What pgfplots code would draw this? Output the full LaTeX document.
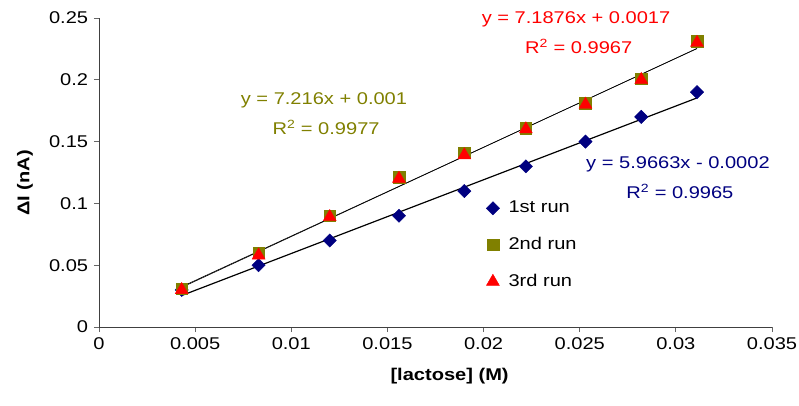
\documentclass[border=0pt]{standalone}
\usepackage{pgfplots}
\pgfplotsset{compat=1.18}
\usepackage{fontspec}
\setmainfont{Liberation Sans}[FakeStretch=1.18]
\definecolor{navyc}{RGB}{0,0,128}
\definecolor{olivec}{RGB}{128,128,0}
\definecolor{redc}{RGB}{255,0,0}
\newcommand{\fs}{\fontsize{17bp}{20bp}\selectfont}
\begin{document}
\fs
\begin{tikzpicture}
\begin{axis}[
  at={(99bp,79bp)}, anchor=south west,
  scale only axis, width=673bp, height=309bp,
  xmin=0, xmax=0.035, ymin=0, ymax=0.25,
  axis x line=bottom, axis y line=left,
  axis line style={-, line width=0.9pt, black!75},
  tick style={black!60, line width=0.9pt},
  tick align=outside, major tick length=5bp,
  xtick={0,0.005,0.01,0.015,0.02,0.025,0.03,0.035},
  ytick={0,0.05,0.1,0.15,0.2,0.25},
  xticklabels={0,0.005,0.01,0.015,0.02,0.025,0.03,0.035},
  yticklabels={0,0.05,0.1,0.15,0.2,0.25},
  scaled ticks=false,
  ticklabel style={font=\fs},
  xlabel={\textbf{[lactose] (M)}},
  ylabel={\textbf{ΔI (nA)}},
  label style={font=\fs},
  xlabel style={at={(axis description cs:0.521,-0.158)}, anchor=center},
  ylabel style={at={(axis description cs:-0.11,0.466)}, anchor=center},
  clip=false,
  legend image code/.code={\draw[#1] plot coordinates {(0cm,0cm)};},
  legend style={at={(axis cs:0.02013,0.1036)}, anchor=north west, draw=none, fill=none,
    font=\fs, row sep=18bp, inner sep=0pt, nodes={inner sep=2bp},
    /tikz/every odd column/.append style={column sep=7bp}},
  legend cell align=left,
]
\addplot[only marks, mark=square*, mark options={rotate=45}, mark size=4.7bp, color=navyc] coordinates {
(0.0043,0.03) (0.0083,0.05) (0.012,0.07) (0.0156,0.09) (0.019,0.11) (0.0222,0.13) (0.0253,0.15) (0.0282,0.17) (0.0311,0.19)};
\addlegendentry{1st run}
\addplot[only marks, mark=square*, mark size=5.8bp, color=olivec] coordinates {
(0.0043,0.031) (0.0083,0.06) (0.012,0.09) (0.0156,0.121) (0.019,0.141) (0.0222,0.161) (0.0253,0.181) (0.0282,0.201) (0.0311,0.231)};
\addlegendentry{2nd run}
\addplot[only marks, mark=triangle*, mark size=7.5bp, color=redc] coordinates {
(0.0043,0.03) (0.0083,0.058) (0.012,0.089) (0.0156,0.12) (0.019,0.139) (0.0222,0.16) (0.0253,0.18) (0.0282,0.2) (0.0311,0.23)};
\addlegendentry{3rd run}
\addplot[black, line width=1.2pt, forget plot] coordinates {(0.0043,0.02546) (0.0311,0.18535)};
\addplot[black, line width=0.6pt, forget plot] coordinates {(0.0043,0.03203) (0.0311,0.22542)};
\addplot[black, line width=0.6pt, forget plot] coordinates {(0.0043,0.03261) (0.0311,0.22523)};
\node[text=redc] at (axis cs:0.02481,0.2490) {y = 7.1876x + 0.0017};
\node[text=redc] at (axis cs:0.02495,0.2268) {R\textsuperscript{2} = 0.9967};
\node[text=olivec] at (axis cs:0.01170,0.1837) {y = 7.216x + 0.001};
\node[text=olivec] at (axis cs:0.01181,0.1612) {R\textsuperscript{2} = 0.9977};
\node[text=navyc] at (axis cs:0.03011,0.1316) {y = 5.9663x - 0.0002};
\node[text=navyc] at (axis cs:0.03021,0.1095) {R\textsuperscript{2} = 0.9965};
\end{axis}
\pgfresetboundingbox
\path[use as bounding box] (0,0) rectangle (799bp,406bp);
\end{tikzpicture}
\end{document}
